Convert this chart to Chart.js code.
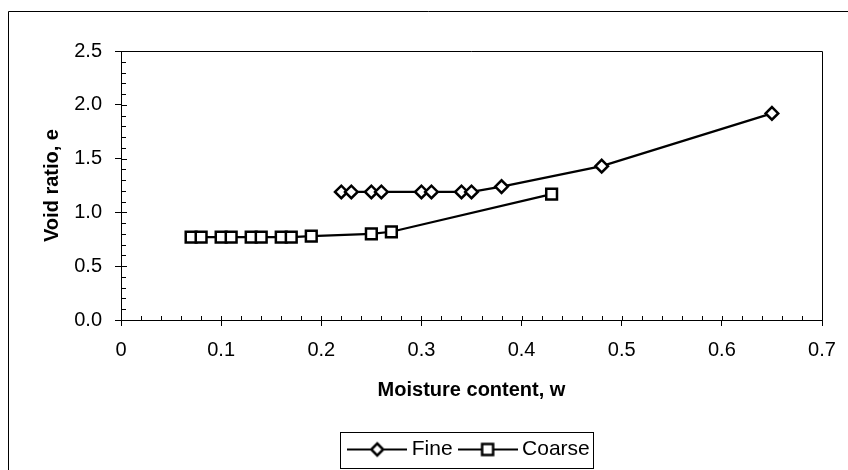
<!DOCTYPE html>
<html lang="en">
<head>
<meta charset="UTF-8">
<title>Void ratio vs moisture content</title>
<script src="https://cdn.jsdelivr.net/npm/chart.js"></script>
<style>
  html, body { margin: 0; padding: 0; background: #fff; }
  #wrap { width: 848px; height: 470px; position: relative; }
</style>
</head>
<body>
<div id="wrap"><canvas id="voidChart" width="848" height="470"></canvas></div>
<script>
// moisture content w and void ratio e, one pair of arrays per soil
const fineW = [0.22, 0.23, 0.25, 0.26, 0.30, 0.31, 0.34, 0.35, 0.38, 0.48, 0.65];
const fineE = [1.19, 1.19, 1.19, 1.19, 1.19, 1.19, 1.19, 1.19, 1.24, 1.43, 1.92];
const coarseW = [0.07, 0.08, 0.10, 0.11, 0.13, 0.14, 0.16, 0.17, 0.19, 0.25, 0.27, 0.43];
const coarseE = [0.77, 0.77, 0.77, 0.77, 0.77, 0.77, 0.77, 0.77, 0.78, 0.80, 0.82, 1.17];
const seriesNames = ['Fine', 'Coarse'];

const FONT = 'Liberation Sans, Arial, sans-serif';

function toPoints(xs, ys) {
  return xs.map((w, i) => ({ x: w, y: ys[i] }));
}

// little "line + marker" swatch used by the legend
function swatch(style) {
  const c = document.createElement('canvas');
  c.width = 60; c.height = 20;
  const g = c.getContext('2d');
  g.strokeStyle = '#000';
  g.lineWidth = 2;
  g.beginPath(); g.moveTo(0, 10); g.lineTo(60, 10); g.stroke();
  g.fillStyle = '#fff';
  g.lineWidth = 2.5;
  g.beginPath();
  if (style === 'rectRot') {
    g.moveTo(30, 4); g.lineTo(36, 10); g.lineTo(30, 16); g.lineTo(24, 10); g.closePath();
  } else {
    g.rect(24.5, 4.5, 11, 11);
  }
  g.fill(); g.stroke();
  return c;
}

// axis frame, inner/minor tick marks, outer border and legend box
const decorations = {
  id: 'decorations',
  afterDraw(chart) {
    const { ctx, chartArea: a, scales: { x, y } } = chart;
    ctx.save();
    ctx.strokeStyle = '#000';
    ctx.lineWidth = 1;
    ctx.beginPath();
    ctx.moveTo(a.left, a.top + 0.5);
    ctx.lineTo(a.right + 0.5, a.top + 0.5);
    ctx.lineTo(a.right + 0.5, a.bottom);
    for (let i = 1; i < 35; i++) {
      const px = Math.round(x.getPixelForValue(i * 0.02)) + 0.5;
      ctx.moveTo(px, a.bottom);
      ctx.lineTo(px, a.bottom - 4);
    }
    for (let i = 1; i < 25; i++) {
      const py = Math.round(y.getPixelForValue(i * 0.1)) + 0.5;
      ctx.moveTo(a.left, py);
      ctx.lineTo(a.left + (i % 5 === 0 ? 6 : 5), py);
    }
    ctx.moveTo(8.5, chart.height);
    ctx.lineTo(8.5, 11.5);
    ctx.lineTo(chart.width, 11.5);
    ctx.stroke();

    const hb = chart.legend.legendHitBoxes;
    if (hb && hb.length) {
      const first = hb[0], last = hb[hb.length - 1];
      const l = Math.round(first.left - 13) + 0.5;
      const r = Math.round(last.left + last.width + 3) + 0.5;
      const t = Math.round(first.top - 7) + 0.5;
      const b = Math.round(first.top + first.height + 8) + 0.5;
      ctx.strokeRect(l, t, r - l, b - t);
    }
    ctx.restore();
  }
};

new Chart(document.getElementById('voidChart'), {
  type: 'scatter',
  data: {
    datasets: [
      {
        label: seriesNames[0],
        data: toPoints(fineW, fineE),
        showLine: true,
        borderColor: '#000',
        borderWidth: 2.2,
        pointStyle: 'rectRot',
        pointRadius: 6.3,
        pointBorderWidth: 2.5,
        pointBackgroundColor: '#fff',
        pointBorderColor: '#000'
      },
      {
        label: seriesNames[1],
        data: toPoints(coarseW, coarseE),
        showLine: true,
        borderColor: '#000',
        borderWidth: 2.2,
        pointStyle: 'rect',
        pointRadius: 7.6,
        pointBorderWidth: 2.5,
        pointBackgroundColor: '#fff',
        pointBorderColor: '#000'
      }
    ]
  },
  options: {
    responsive: false,
    animation: false,
    layout: { padding: { left: 30, top: 51, right: 26, bottom: 0 } },
    plugins: {
      tooltip: { enabled: false },
      legend: {
        position: 'bottom',
        fullSize: false,
        labels: {
          usePointStyle: true,
          pointStyleWidth: 48,
          padding: 11,
          color: '#000',
          font: { family: FONT, size: 21 },
          generateLabels(chart) {
            return chart.data.datasets.map((ds, i) => ({
              text: ds.label,
              pointStyle: swatch(ds.pointStyle),
              fontColor: '#000',
              datasetIndex: i,
              lineWidth: 0
            }));
          }
        }
      }
    },
    scales: {
      x: {
        type: 'linear',
        min: 0,
        max: 0.7,
        ticks: {
          stepSize: 0.1,
          color: '#000',
          padding: 12,
          font: { family: FONT, size: 20 },
          callback: v => (v === 0 ? '0' : v.toFixed(1))
        },
        grid: { drawOnChartArea: false, drawTicks: true, tickLength: 6, color: '#000' },
        border: { color: '#000', width: 1 },
        title: {
          display: true,
          text: 'Moisture content, w',
          color: '#000',
          padding: { top: 0, bottom: 26 },
          font: { family: FONT, size: 20, weight: 'bold' }
        },
        afterFit(scale) { scale.height = 108; }
      },
      y: {
        type: 'linear',
        min: 0,
        max: 2.5,
        ticks: {
          stepSize: 0.5,
          color: '#000',
          padding: 13,
          font: { family: FONT, size: 20 },
          callback: v => v.toFixed(1)
        },
        grid: { drawOnChartArea: false, drawTicks: true, tickLength: 6, color: '#000' },
        border: { color: '#000', width: 1 },
        title: {
          display: true,
          text: 'Void ratio, e',
          color: '#000',
          padding: { top: 10, bottom: 0 },
          font: { family: FONT, size: 20, weight: 'bold' }
        },
        afterFit(scale) { scale.width = 91; }
      }
    }
  },
  plugins: [decorations]
});
</script>
</body>
</html>
